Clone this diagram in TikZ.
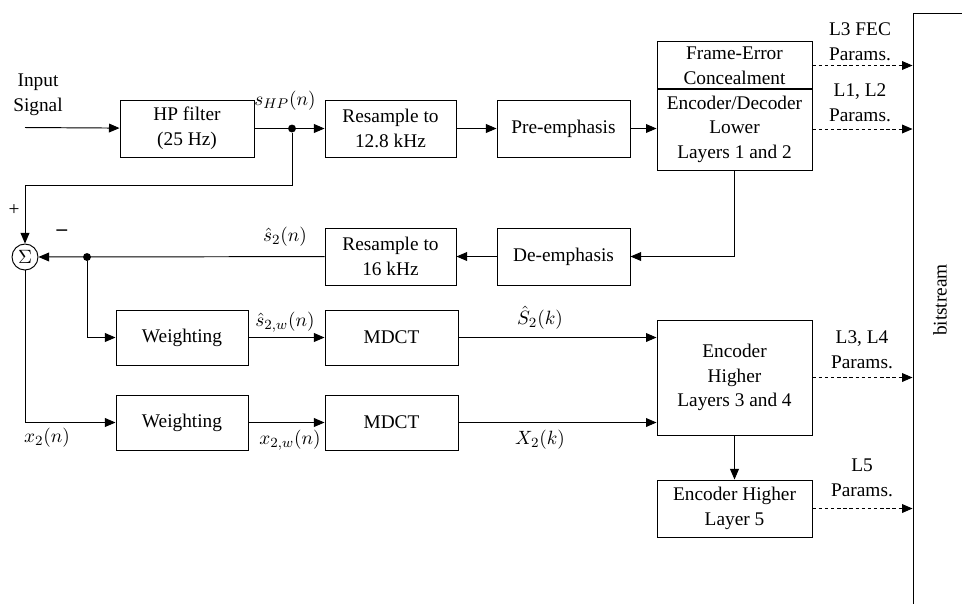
\documentclass[tikz,border=0pt]{standalone}
\usepackage{fontspec}
\setmainfont{Liberation Serif}
\usetikzlibrary{arrows.meta}

\begin{document}
\begin{tikzpicture}[
      x=0.02cm,y=-0.02cm,
      line width=0.55pt,
      pointer/.style={-{Triangle[length=6pt,width=5pt]},draw=black},
      dpointer/.style={pointer,dashed,dash pattern=on 2pt off 1.5pt},
      every label/.style={font=\footnotesize,draw=none},
      every node/.style={font=\fontsize{11}{14}\selectfont},
      block/.style={rectangle,draw=black,align=center,inner sep=1mm,minimum width=2.66cm,minimum height=1.14cm},
      wide/.style={block,minimum width=3.1cm},
      dot/.style={circle,fill=black,inner sep=0pt,minimum size=4.5pt},
      tag/.style={align=center,inner sep=1pt}
      ]
      \clip (0,0) rectangle (962,603);
      % upper path
      \coordinate (in) at (25,127.5);
      \node[block,minimum width=2.68cm] (hp) at (187,128.5) {HP filter\\(25 Hz)};
      \node[dot] (jhp) at (292,128.5) {};
      \node[block,minimum width=2.62cm] (rs1) at (390.5,128.5) {Resample to\\12.8 kHz};
      \node[block] (pre) at (563.5,128.5) {Pre-emphasis};
      \node[wide,minimum height=0.9cm] (fec) at (734.5,65.5) {Frame-Error\\Concealment};
      \node[wide,minimum height=1.64cm] (lower) at (734.5,129) {Encoder/Decoder\\Lower\\Layers 1 and 2};
      % feedback path
      \node[block] (deemph) at (563.5,256.5) {De-emphasis};
      \node[block,minimum width=2.62cm] (rs2) at (390.5,256.5) {Resample to\\16 kHz};
      \node[circle,draw=black,inner sep=0pt,minimum size=0.52cm] (sum) at (25,257) {$\Sigma$};
      \node[dot] (jsum) at (87,257) {};
      \coordinate (bend) at (25,185);
      % lower paths
      \node[block,minimum width=2.64cm,minimum height=1.1cm] (w1) at (182,337.5) {Weighting};
      \node[block,minimum height=1.1cm] (mdct1) at (391.5,337.5) {MDCT};
      \node[block,minimum width=2.64cm,minimum height=1.1cm] (w2) at (182,422.5) {Weighting};
      \node[block,minimum height=1.1cm] (mdct2) at (391.5,422.5) {MDCT};
      \node[wide,minimum height=2.3cm] (hi34) at (734.5,377.5) {Encoder\\Higher\\Layers 3 and 4};
      \node[wide] (hi5) at (734.5,508.5) {Encoder Higher\\Layer 5};
      % bitstream
      \node[rectangle,draw=black,minimum width=2cm,minimum height=14cm] (bitstream) at (963,363) {};
      \node[rotate=90] (bitlabel) at (940,300) {bitstream};

      % connectors
      \draw[pointer] (in) -- (hp);
      \draw (hp) -- (jhp);
      \draw[pointer] (jhp) -- (rs1);
      \draw[pointer] (rs1) -- (pre);
      \draw[pointer] (pre.east) -- (pre.east -| lower.west);
      \draw[pointer] (jhp) |- (bend) -- (sum);
      \draw[pointer] (lower.south) |- (deemph.east);
      \draw[pointer] (deemph) -- (rs2);
      \draw[pointer] (rs2) -- (sum);
      \draw[pointer] (jsum) |- (w1.west);
      \draw[pointer] (sum) |- (w2.west);
      \draw[pointer] (w1) -- (mdct1);
      \draw[pointer] (w2) -- (mdct2);
      \draw[pointer] (mdct1.east) -- (mdct1.east -| hi34.west);
      \draw[pointer] (mdct2.east) -- (mdct2.east -| hi34.west);
      \draw[pointer] (hi34) -- (hi5);
      \draw[dpointer] (fec.east) -- (fec.east -| bitstream.west);
      \draw[dpointer] (lower.east) -- (lower.east -| bitstream.west);
      \draw[dpointer] (hi34.east) -- (hi34.east -| bitstream.west);
      \draw[dpointer] (hi5.east) -- (hi5.east -| bitstream.west);

      % signal names
      \node[tag] (lin) at (38,95) {Input\\Signal};
      \node[tag] (lshp) at (285,101) {$s_{HP}(n)$};
      \node[tag] (lplus) at (14,210) {+};
      \node[tag] (lminus) at (62,233) {\large\bfseries\textendash};
      \node[tag] (ls2) at (285,237) {$\hat{s}_2(n)$};
      \node[tag] (ls2w) at (285,322) {$\hat{s}_{2,w}(n)$};
      \node[tag] (lx2w) at (290,440) {$x_{2,w}(n)$};
      \node[tag] (lx2) at (47,438) {$x_2(n)$};
      \node[tag] (lS2) at (540,318) {$\hat{S}_2(k)$};
      \node[tag] (lX2) at (540,440) {$X_2(k)$};
      \node[tag] (lfec) at (860,42) {L3 FEC\\Params.};
      \node[tag] (l12) at (860,103) {L1, L2\\Params.};
      \node[tag] (l34) at (862,350) {L3, L4\\Params.};
      \node[tag] (l5) at (862,478) {L5\\Params.};
    \end{tikzpicture}
\end{document}
